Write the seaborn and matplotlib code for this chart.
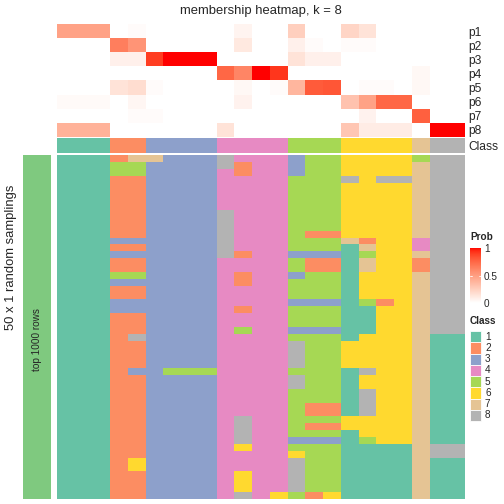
import numpy as np
import pandas as pd
import seaborn as sns
import matplotlib.pyplot as plt
from matplotlib.colors import ListedColormap
from matplotlib.patches import Rectangle
import matplotlib as mpl

sns.set_style("white")
plt.rcParams['font.family'] = ['Liberation Sans', 'DejaVu Sans']

# class of each sample (column)
classes = [1, 1, 1, 2, 2, 3, 3, 3, 3, 4, 4, 4, 4, 5, 5, 5, 6, 6, 6, 6, 7, 8, 8]

# membership probabilities per column
p1 = [0.48, 0.48, 0.48, 0, 0.02, 0, 0, 0, 0, 0, 0.06, 0, 0, 0.25, 0, 0, 0.22, 0.15, 0, 0, 0, 0, 0]
p2 = [0, 0, 0, 0.65, 0.55, 0, 0, 0, 0, 0, 0.12, 0, 0, 0.08, 0.02, 0, 0.02, 0.02, 0, 0, 0, 0, 0]
p3 = [0, 0, 0, 0.08, 0.08, 0.9, 1, 1, 1, 0, 0, 0, 0, 0.15, 0.08, 0.08, 0, 0, 0, 0, 0, 0, 0]
p4 = [0, 0, 0, 0, 0, 0, 0, 0, 0, 0.75, 0.62, 1, 0.92, 0, 0, 0, 0, 0, 0, 0, 0.04, 0, 0]
p5 = [0, 0, 0, 0.15, 0.18, 0.02, 0, 0, 0, 0, 0.04, 0, 0.02, 0.38, 0.8, 0.82, 0, 0.02, 0.02, 0, 0.04, 0, 0]
p6 = [0.03, 0.03, 0.03, 0, 0.05, 0, 0, 0, 0, 0, 0.07, 0, 0, 0, 0, 0, 0.32, 0.48, 0.75, 0.75, 0, 0, 0]
p7 = [0, 0, 0, 0, 0.02, 0.02, 0, 0, 0, 0, 0, 0, 0, 0, 0, 0, 0, 0.07, 0, 0, 0.78, 0, 0]
p8 = [0.4, 0.4, 0.4, 0, 0, 0, 0, 0, 0, 0.15, 0, 0, 0, 0, 0, 0, 0.3, 0.1, 0.1, 0.1, 0, 1, 1]
prob_labels = ["p1", "p2", "p3", "p4", "p5", "p6", "p7", "p8"]

# class assigned in each of the 50 random samplings (one string per row)
sampling_rows = [
    "11127733384443556666588",
    "11155333382443556666788",
    "11155333342443556666788",
    "11122333344445558688788",
    "11122333344445556666788",
    "11122333344445556666788",
    "11122333344445556666788",
    "11122333344445556666788",
    "11122333384445556666788",
    "11122333384445556666788",
    "11122333384445556666788",
    "11122333384445226666788",
    "11133333384445557266488",
    "11122333384445551766488",
    "11133333382443331566788",
    "11122333344445221766288",
    "11122333344445221766288",
    "11155333342443551666788",
    "11133333342445551666788",
    "11122333344445551666788",
    "11122333344445551666788",
    "11133333344443331526788",
    "11133333342445551166788",
    "11122333344445551166788",
    "11122333344445551166788",
    "11122333345443331166788",
    "11128333344445551666711",
    "11122333344448556666711",
    "11122333344448556666711",
    "11122333344448556666711",
    "11122333344448556666711",
    "11123355544445551866711",
    "11122333344448551666711",
    "11122333344448551666711",
    "11122333344445551866711",
    "11122333344445551866711",
    "11122333344445221866711",
    "11122333344445221866711",
    "11122333348445556666711",
    "11122333348445226666711",
    "11122333348445551666711",
    "11122333348443331566711",
    "11122333346445551111788",
    "11122333344446551111788",
    "11126333344448551111711",
    "11126333344448551111711",
    "11122333346448551111711",
    "11122333346448551111711",
    "11122333346448551111711",
    "11122333348465261111711",
]

class_colors = ["#66C2A5", "#FC8D62", "#8DA0CB", "#E78AC3",
                "#A6D854", "#FFD92F", "#E5C494", "#B3B3B3"]
class_cmap = ListedColormap(class_colors)


def lab_to_rgb(L, a, b):
    fy = (L + 16) / 116
    fx = fy + a / 500
    fz = fy - b / 200
    d = 6 / 29

    def finv(t):
        return np.where(t > d, t ** 3, 3 * d * d * (t - 4 / 29))
    X = 0.95047 * finv(fx)
    Y = finv(fy)
    Z = 1.08883 * finv(fz)
    M = np.array([[3.2406, -1.5372, -0.4986],
                  [-0.9689, 1.8758, 0.0415],
                  [0.0557, -0.2040, 1.0570]])
    rgb = M @ np.vstack([X, Y, Z])
    rgb = np.clip(rgb, 0, 1)
    rgb = np.where(rgb <= 0.0031308, 12.92 * rgb, 1.055 * rgb ** (1 / 2.4) - 0.055)
    return np.clip(rgb.T, 0, 1)


# white -> red, interpolated in LAB like colorRamp2
t = np.linspace(0, 1, 256)
prob_cmap = ListedColormap(lab_to_rgb(100 + t * (53.24 - 100), t * 80.09, t * 67.20))

mem = pd.DataFrame([p1, p2, p3, p4, p5, p6, p7, p8], index=prob_labels)
samp = np.array([[int(c) for c in row] for row in sampling_rows])

fig = plt.figure(figsize=(7, 7), dpi=72)


def add_ax(x0, y0, x1, y1):
    return fig.add_axes([x0 / 504, 1 - y1 / 504, (x1 - x0) / 504, (y1 - y0) / 504])


# membership heatmap
ax_mem = add_ax(57, 24, 465, 137)
sns.heatmap(mem, ax=ax_mem, cmap=prob_cmap, vmin=0, vmax=1, cbar=False,
            xticklabels=False, yticklabels=True)
ax_mem.yaxis.tick_right()
ax_mem.tick_params(axis='y', length=0, pad=3, labelsize=12, rotation=0)
fig.text(261 / 504, 1 - 11 / 504, "membership heatmap, k = 8", fontsize=13,
         ha="center", va="center")

# class annotation row
ax_cls = add_ax(57, 138, 465, 153)
sns.heatmap(np.array([classes]), ax=ax_cls, cmap=class_cmap, vmin=0.5, vmax=8.5,
            cbar=False, xticklabels=False, yticklabels=["Class"])
ax_cls.yaxis.tick_right()
ax_cls.tick_params(axis='y', length=0, pad=3, labelsize=12, rotation=0)

# random samplings heatmap
ax_main = add_ax(57, 155, 465, 499)
sns.heatmap(samp, ax=ax_main, cmap=class_cmap, vmin=0.5, vmax=8.5,
            cbar=False, xticklabels=False, yticklabels=False)

# left annotation bar
ax_bar = add_ax(23, 155, 51, 499)
ax_bar.set_facecolor("#7FC97F")
ax_bar.set_xticks([])
ax_bar.set_yticks([])
for s in ax_bar.spines.values():
    s.set_visible(False)
ax_bar.text(0.5, 1 - (340 - 155) / 344, "top 1000 rows", rotation=90, ha="center",
            va="center", fontsize=10, transform=ax_bar.transAxes)

fig.text(11 / 504, 1 - 257 / 504, "50 x 1 random samplings", rotation=90,
         ha="center", va="center", fontsize=13)

# probability legend
fig.text(470 / 504, 1 - 237 / 504, "Prob", fontsize=10, fontweight="bold",
         ha="left", va="center")
ax_cb = add_ax(470, 248, 481, 303)
cb = fig.colorbar(mpl.cm.ScalarMappable(norm=mpl.colors.Normalize(0, 1), cmap=prob_cmap),
                  cax=ax_cb, ticks=[0, 0.5, 1])
cb.outline.set_visible(False)
cb.ax.set_yticklabels(["0", "0.5", "1"])
cb.ax.tick_params(length=0, labelsize=10, pad=3)
for v in [0.5]:
    ax_cb.plot([0, 0.2], [v, v], color="white", lw=0.8)
    ax_cb.plot([0.8, 1], [v, v], color="white", lw=0.8)

# class legend
fig.text(470 / 504, 1 - 321 / 504, "Class", fontsize=10, fontweight="bold",
         ha="left", va="center")
box_h = 11.25
for i, col in enumerate(class_colors):
    y0 = 331 + i * box_h
    fig.patches.append(Rectangle((470 / 504, 1 - (y0 + box_h) / 504), 11 / 504, box_h / 504,
                                 transform=fig.transFigure, facecolor=col,
                                 edgecolor="white", lw=0.8))
    fig.text(485 / 504, 1 - (y0 + box_h / 2) / 504, str(i + 1), fontsize=10,
             ha="left", va="center")

fig.savefig("out.png", dpi=72)
